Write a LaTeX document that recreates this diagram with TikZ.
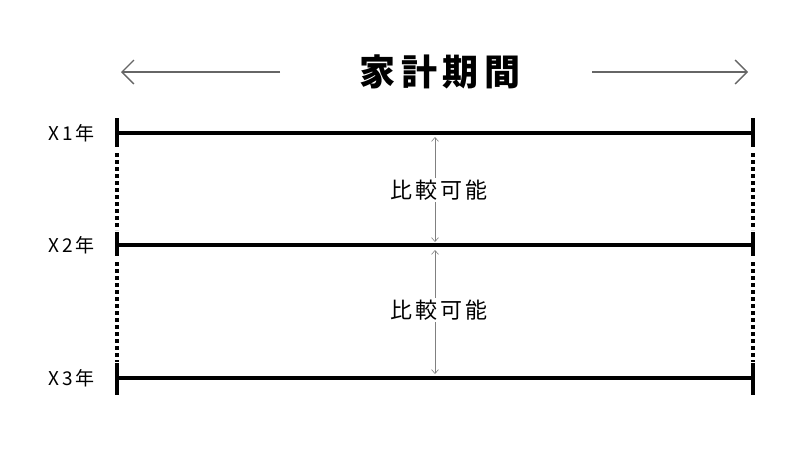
\documentclass[tikz,border=0pt]{standalone}
\usepackage{fontspec}
\newfontfamily\cjk[LetterSpace=15]{Noto Sans CJK JP}
\usetikzlibrary{arrows.meta}
\begin{document}
\begin{tikzpicture}[x=1pt,y=-1pt,
        yearline/.style={line width=3.5pt},
        tick/.style={line width=4pt},
        dotline/.style={line width=4pt, dash pattern=on 4pt off 3pt},
        span/.style={draw=black!60, line width=1.4pt, -{Straight Barb[length=12pt,width=24pt]}},
        compare/.style={draw=black!50, line width=0.6pt, {Straight Barb[length=4pt,width=7pt]}-{Straight Barb[length=4pt,width=7pt]}},
        yearlabel/.style={font=\cjk\fontsize{19}{19}\selectfont, anchor=east},
        midlabel/.style={font=\cjk\fontsize{22}{22}\selectfont, fill=white, inner sep=2pt},
    ]
    \useasboundingbox (0,0) rectangle (800,450);
    % title and period arrows
    \node[font=\cjk\bfseries\fontsize{36}{36}\selectfont] (title) at (440,72) {家計期間};
    \coordinate (la) at (280,72);
    \coordinate (lb) at (121,72);
    \coordinate (ra) at (592,72);
    \coordinate (rb) at (748,72);
    \draw[span] (la) -- (lb);
    \draw[span] (ra) -- (rb);
    % years
    \foreach \n/\yy/\ta/\tb in {1/133/118/147, 2/245/232/256, 3/378/363/395}{
        \coordinate (l\n) at (117,\yy);
        \coordinate (r\n) at (753,\yy);
        \node[yearlabel] (y\n) at (98,\yy) {X{\n}年};
        \draw[yearline] (l\n) -- (r\n);
        \draw[tick] (117,\ta) -- (117,\tb);
        \draw[tick] (753,\ta) -- (753,\tb);
    }
    \draw[dotline] (117,153) -- (117,230);
    \draw[dotline] (117,262) -- (117,362);
    \draw[dotline] (753,153) -- (753,230);
    \draw[dotline] (753,262) -- (753,362);
    % comparisons
    \coordinate (c1a) at (435,137);
    \coordinate (c1b) at (435,242);
    \coordinate (c2a) at (435,250);
    \coordinate (c2b) at (435,374);
    \draw[compare] (c1a) -- (c1b);
    \draw[compare] (c2a) -- (c2b);
    \node[midlabel] (m1) at (439,190) {比較可能};
    \node[midlabel] (m2) at (439,310) {比較可能};
\end{tikzpicture}
\end{document}
